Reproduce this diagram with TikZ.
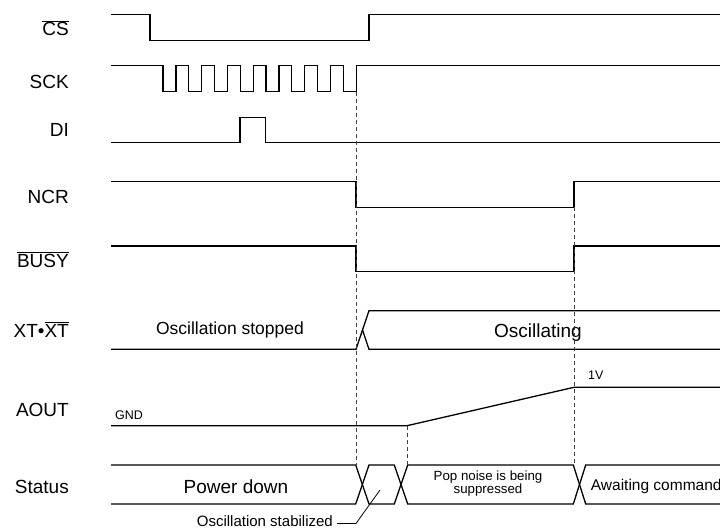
\documentclass[tikz,border=0pt]{standalone}
\usepackage{fontspec}
\setmainfont{Liberation Sans}
\usepackage{tikz}
\usetikzlibrary{positioning,calc}

\newcommand{\sigbar}[1]{$\overline{\hbox{#1}}$}

\begin{document}
\begin{tikzpicture}[x=1pt, y=-1pt,
        wave/.style={line width=1.3pt},
        guide/.style={line width=0.7pt, black!75, dash pattern=on 4pt off 3pt},
        lbl/.style={anchor=base east, inner sep=0pt, font=\fontsize{19}{19}\selectfont},
        txt/.style={inner sep=0pt, font=\fontsize{#1}{#1}\selectfont},
        txt/.default=19
    ]
        \useasboundingbox (0,0) rectangle (720,529);

        % Signal names
        \node (cs) [lbl] at (69,35.7) {\sigbar{CS}};
        \node (sck) [lbl] at (69,88.3) {SCK};
        \node (di) [lbl] at (69,137) {DI};
        \node (ncr) [lbl] at (69,203.3) {NCR};
        \node (busy) [lbl] at (69,267.3) {\sigbar{BUSY}};
        \node (xt) [lbl] at (69,337) {XT•\sigbar{XT}};
        \node (aout) [lbl] at (69,416) {AOUT};
        \node (status) [lbl] at (69,493.3) {Status};

        % Serial interface
        \draw [wave] (111,14.3) -| (150,40.7) -| (369,14.3) -- (720,14.3);
        \draw [wave] (111,65.7) foreach \k in {0,...,7} {
            -- ({163+25.76*\k},65.7) -- ++(0,26) -- ++(12.9,0) -- ++(0,-26)
        } -- (720,65.7);
        \draw [wave] (111,142.7) -| (240,117.3) -| (265.7,142.7) -- (720,142.7);

        % NCR and BUSY
        \draw [wave] (111,181.7) -| (356,207.3) -| (574,181.7) -- (720,181.7);
        \draw [wave] (111,246) -| (356,271.7) -| (574,246) -- (720,246);

        % Oscillator
        \draw [wave] (111,349.3) -- (356,349.3) -- (369,310.7) -- (720,310.7);
        \draw [wave] (362.5,330) -- (369,349.3) -- (720,349.3);
        \node (stopped) [txt=17.5, anchor=base] at (230,334.3) {Oscillation stopped};
        \node (osc) [txt, anchor=base] at (538,337.3) {Oscillating};

        % Analog output
        \draw [wave] (111,425.7) -- (407,425.7) -- (574,387.3) -- (720,387.3);
        \node (gnd) [txt=12.5, anchor=base west] at (115,419) {GND};
        \node (onev) [txt=12.5, anchor=base west] at (588,379.3) {1V};

        % Status
        \draw [wave] (111,465) -- (355.7,465) -- (369,504) -- (394.3,504) -- (407.7,465)
            -- (573.3,465) -- (585.7,504) -- (720,504);
        \draw [wave] (111,504) -- (355.7,504) -- (369,465) -- (394.3,465) -- (407.7,504)
            -- (573.3,504) -- (585.7,465) -- (720,465);
        \node (pdown) [txt, anchor=base] at (236,493.3) {Power down};
        \node (pop) [txt=13.3, align=center, anchor=base] at (488,493.3)
            {Pop noise is being\\[-0.5pt]suppressed};
        \node (await) [txt=15.5, anchor=base west] at (590.7,490) {Awaiting command};

        % Timing guides
        \coordinate (sckend) at (356,91.7);
        \coordinate (ncrup) at (574,207.3);
        \coordinate (ramp) at (407,425.7);
        \draw [guide] (sckend) -- (sckend |- 0,465);
        \draw [guide] (ncrup) -- (ncrup |- 0,465);
        \draw [guide] (ramp) -- (ramp |- 0,465);

        % Oscillation stabilized
        \node (stab) [txt=15, anchor=base east] at (333,526.5) {Oscillation stabilized};
        \coordinate (stabpt) at (380,490);
        \draw [line width=0.8pt] ($(stab.base east)+(4,-3)$) -- ++(19,0) -- (stabpt);
    \end{tikzpicture}
\end{document}
